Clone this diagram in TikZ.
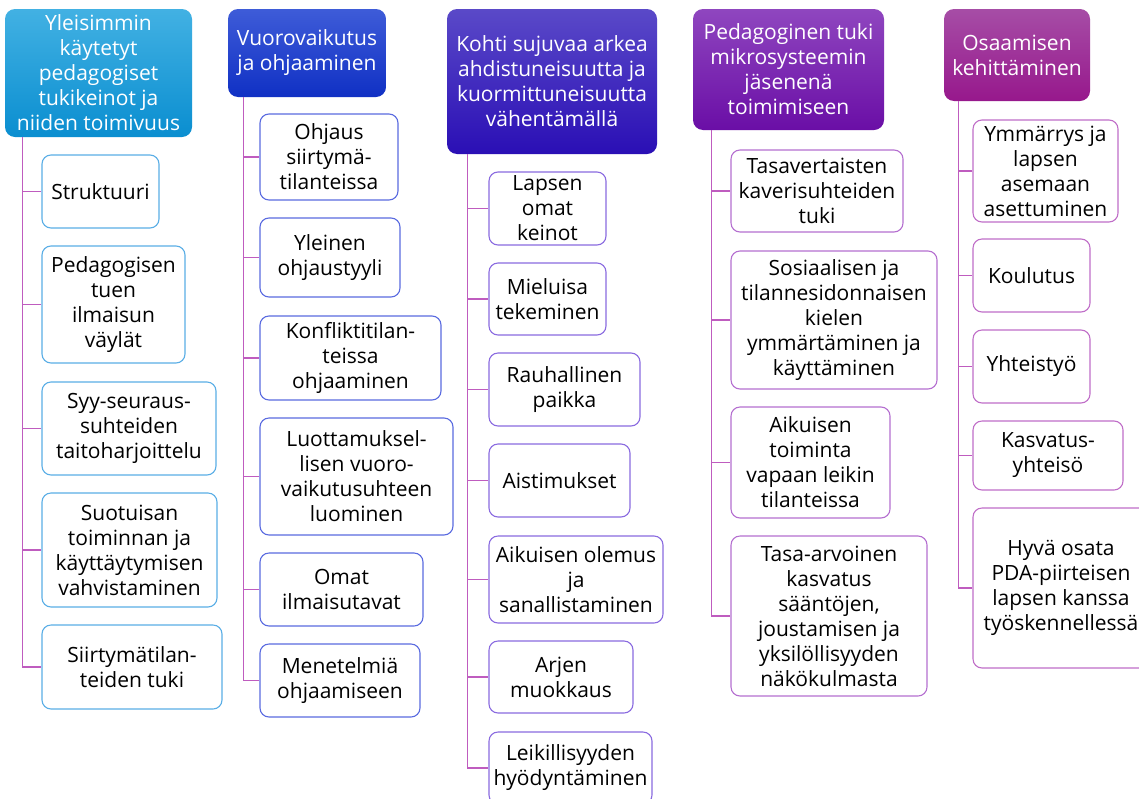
\documentclass[tikz,border=0pt]{standalone}
\usepackage{fontspec}
\setmainfont{Open Sans}
\definecolor{conncol}{HTML}{BF5CBF}
\definecolor{hAt}{HTML}{42B1E3}\definecolor{hAb}{HTML}{0A8ED0}
\definecolor{hBt}{HTML}{3E5CD8}\definecolor{hBb}{HTML}{1030C4}
\definecolor{hCt}{HTML}{5A49C8}\definecolor{hCb}{HTML}{2A0FB5}
\definecolor{hDt}{HTML}{8F46BF}\definecolor{hDb}{HTML}{6A0EA6}
\definecolor{hEt}{HTML}{A64DA6}\definecolor{hEb}{HTML}{97188C}
\definecolor{bA}{HTML}{5AAEE6}
\definecolor{bB}{HTML}{5A6BE0}
\definecolor{bC}{HTML}{8A6BE0}
\definecolor{bD}{HTML}{B56FD0}
\definecolor{bE}{HTML}{C06EC8}
\newcommand\fsz{\fontsize{21}{25}\selectfont}
\tikzset{
  hdr/.style={rounded corners=10pt, text=white, align=center, font=\fsz, inner sep=0pt},
  kid/.style={draw, rounded corners=9pt, line width=1.1pt, fill=white, align=center, font=\fsz, text=black, inner sep=0pt},
  conn/.style={draw=conncol, line width=1.3pt},
}
\begin{document}
\begin{tikzpicture}[x=1pt,y=-1pt]
\clip (0,0) rectangle (1139,798);
\fill[white] (0,0) rectangle (1139,798);
% ---------- column 1
\node[hdr, top color=hAt, bottom color=hAb, minimum width=187pt, minimum height=128pt] (h1) at (98.5,73) {Yleisimmin\\käytetyt\\pedagogiset\\tukikeinot ja\\niiden toimivuus};
\coordinate (t1) at ([xshift=18pt]h1.south west);
\begin{scope}[every node/.style={kid, draw=bA}]
\node[minimum width=117pt, minimum height=73pt] (c11) at (100.5,191.5) {Struktuuri};
\node[minimum width=143pt, minimum height=117pt] (c12) at (113.5,304.5) {Pedagogisen\\tuen\\ilmaisun\\väylät};
\node[minimum width=174pt, minimum height=93pt] (c13) at (129,428.5) {Syy-seuraus-\\suhteiden\\taitoharjoittelu};
\node[minimum width=175pt, minimum height=114pt] (c14) at (129.5,550) {Suotuisan\\toiminnan ja\\käyttäytymisen\\vahvistaminen};
\node[minimum width=180pt, minimum height=84pt] (c15) at (132,667) {Siirtymätilan-\\teiden tuki};
\end{scope}
% ---------- column 2
\node[hdr, top color=hBt, bottom color=hBb, minimum width=158pt, minimum height=88pt] (h2) at (307,53) {Vuorovaikutus\\ja ohjaaminen};
\coordinate (t2) at ([xshift=16pt]h2.south west);
\begin{scope}[every node/.style={kid, draw=bB}]
\node[minimum width=138pt, minimum height=86pt] (c21) at (329,157) {Ohjaus\\siirtymä-\\tilanteissa};
\node[minimum width=140pt, minimum height=79pt] (c22) at (330,257.5) {Yleinen\\ohjaustyyli};
\node[minimum width=181pt, minimum height=84pt] (c23) at (350.5,358) {Konfliktitilan-\\teissa\\ohjaaminen};
\node[minimum width=193pt, minimum height=117pt] (c24) at (356.5,476.5) {Luottamuksel-\\lisen vuoro-\\vaikutusuhteen\\luominen};
\node[minimum width=163pt, minimum height=73pt] (c25) at (341.5,589.5) {Omat\\ilmaisutavat};
\node[minimum width=160pt, minimum height=73pt] (c26) at (340,680.5) {Menetelmiä\\ohjaamiseen};
\end{scope}
% ---------- column 3
\node[hdr, top color=hCt, bottom color=hCb, minimum width=210pt, minimum height=145pt] (h3) at (552,81.5) {Kohti sujuvaa arkea\\ahdistuneisuutta ja\\kuormittuneisuutta\\vähentämällä};
\coordinate (t3) at ([xshift=21pt]h3.south west);
\begin{scope}[every node/.style={kid, draw=bC}]
\node[minimum width=117pt, minimum height=73pt] (c31) at (547.5,208.5) {Lapsen\\omat\\keinot};
\node[minimum width=117pt, minimum height=72pt] (c32) at (547.5,299) {Mieluisa\\tekeminen};
\node[minimum width=151pt, minimum height=73pt] (c33) at (564.5,389.5) {Rauhallinen\\paikka};
\node[minimum width=141pt, minimum height=73pt] (c34) at (559.5,480.5) {Aistimukset};
\node[minimum width=174pt, minimum height=87pt] (c35) at (576,579.5) {Aikuisen olemus\\ja\\sanallistaminen};
\node[minimum width=144pt, minimum height=72pt] (c36) at (561,677) {Arjen\\muokkaus};
\node[minimum width=163pt, minimum height=72pt] (c37) at (570.5,768) {Leikillisyyden\\hyödyntäminen};
\end{scope}
% ---------- column 4
\node[hdr, top color=hDt, bottom color=hDb, minimum width=191pt, minimum height=121pt] (h4) at (788.5,69.5) {Pedagoginen tuki\\mikrosysteemin\\jäsenenä\\toimimiseen};
\coordinate (t4) at ([xshift=19pt]h4.south west);
\begin{scope}[every node/.style={kid, draw=bD}]
\node[minimum width=172pt, minimum height=82pt] (c41) at (817,191) {Tasavertaisten\\kaverisuhteiden\\tuki};
\node[minimum width=206pt, minimum height=138pt] (c42) at (834,320) {Sosiaalisen ja\\tilannesidonnaisen\\kielen\\ymmärtäminen ja\\käyttäminen};
\node[minimum width=159pt, minimum height=111pt] (c43) at (810.5,462.5) {Aikuisen\\toiminta\\vapaan leikin\\tilanteissa};
\node[minimum width=196pt, minimum height=160pt] (c44) at (829,616) {Tasa-arvoinen\\kasvatus\\sääntöjen,\\joustamisen ja\\yksilöllisyyden\\näkökulmasta};
\end{scope}
% ---------- column 5
\node[hdr, top color=hEt, bottom color=hEb, minimum width=146pt, minimum height=92pt] (h5) at (1017,55) {Osaamisen\\kehittäminen};
\coordinate (t5) at ([xshift=15pt]h5.south west);
\begin{scope}[every node/.style={kid, draw=bE}]
\node[minimum width=145pt, minimum height=102pt] (c51) at (1045.5,171) {Ymmärrys ja\\lapsen\\asemaan\\asettuminen};
\node[minimum width=117pt, minimum height=73pt] (c52) at (1031.5,275.5) {Koulutus};
\node[minimum width=117pt, minimum height=73pt] (c53) at (1031.5,366.5) {Yhteistyö};
\node[minimum width=150pt, minimum height=69pt] (c54) at (1048,455.5) {Kasvatus-\\yhteisö};
\node[minimum width=176pt, minimum height=160pt] (c55) at (1061,588) {Hyvä osata\\PDA-piirteisen\\lapsen kanssa\\työskennellessä};
\end{scope}
% ---------- connectors
\foreach \c in {c11,c12,c13,c14,c15} \draw[conn] (t1) |- (\c.west);
\foreach \c in {c21,c22,c23,c24,c25,c26} \draw[conn] (t2) |- (\c.west);
\foreach \c in {c31,c32,c33,c34,c35,c36,c37} \draw[conn] (t3) |- (\c.west);
\foreach \c in {c41,c42,c43,c44} \draw[conn] (t4) |- (\c.west);
\foreach \c in {c51,c52,c53,c54,c55} \draw[conn] (t5) |- (\c.west);
\end{tikzpicture}
\end{document}
